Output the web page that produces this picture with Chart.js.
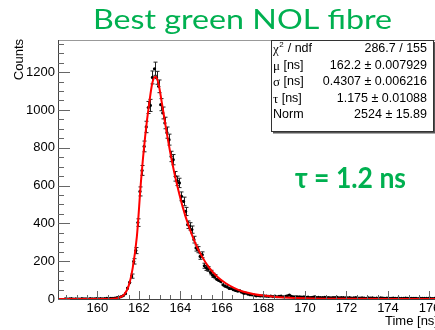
<!DOCTYPE html>
<html><head><meta charset="utf-8">
<script src="https://cdn.jsdelivr.net/npm/chart.js@4/dist/chart.umd.min.js"></script>
<style>
html,body{margin:0;padding:0;overflow:hidden;background:#fff;width:435px;height:330px}
#wrap{position:absolute;left:0;top:0;width:460px;height:330px}
canvas{display:block}
</style></head><body>
<div id="wrap"><canvas id="c" width="460" height="330"></canvas></div>
<script>
// ---------- data ----------
const titleText = "Best green NOL fibre";
const annotationText = "τ = 1.2 ns";
const xTitle = "Time [ns]";
const yTitle = "Counts";
const xTickValues = [160,162,164,166,168,170,172,174,176];
const yTickValues = [0,200,400,600,800,1000,1200];
const binStart = 158.4;
const binWidth = 0.1;
const counts = [
  1,0,1,2,0,1,1,0,2,1,
  1,0,2,1,1,2,1,2,1,2,
  3,2,3,4,5,7,9,13,18,28,
  58,88,121,199,256,404,569,680,807,910,
  1013,1024,1172,1218,1170,1125,1028,984,931,880,
  843,754,737,649,625,614,543,516,463,393,
  384,367,314,270,261,225,234,176,164,159,
  140,125,118,104,98,92,75,68,64,56,
  55,49,45,42,43,36,30,31,26,23,
  22,20,17,18,16,17,16,15,14,16,
  13,15,12,14,15,12,14,17,21,14,
  12,13,11,12,10,11,9,10,8,9,
  11,8,9,7,8,9,7,8,6,8,
  7,9,6,7,8,6,6,7,5,6,
  7,5,5,6,5,4,6,5,6,4,
  5,4,6,5,4,5,4,3,5,4,
  3,4,4,3,5,3,4,3,4,4,
  2,3,4,3,3,4,3,2,4,3,
  3,3,2
];
const fitTimes  = [158.1,160.0,160.6,160.9,161.1,161.3,161.5,161.7,161.9,162.1,162.3,162.5,162.65,162.8,162.95,163.1,163.3,163.5,163.7,163.9,164.1,164.4,164.7,165.0,165.4,165.8,166.2,166.6,167.0,167.5,168.0,168.5,169.0,170.0,171.0,172.0,174.0,176.75];
const fitValues = [0,0,0.5,3,10,25,68,165,330,625,860,1040,1145,1175,1135,1040,905,780,670,575,490,385,300,232,163,115,82,58,40,27,18,12,8,3.5,1.6,0.7,0.15,0];
const statLabels = ["χ² / ndf","μ [ns]","σ [ns]","τ [ns]","Norm"];
const statValues = ["286.7 / 155","162.2 ± 0.007929","0.4307 ± 0.006216","1.175 ± 0.01088","2524 ± 15.89"];

// ---------- drawing ----------
const SANS = "'Liberation Sans', Arial, Helvetica, sans-serif";
const GREEN = "#00b050";

function fitText(ctx, text, left, baseline, font, targetWidth) {
  ctx.save();
  ctx.font = font;
  ctx.textAlign = 'left';
  ctx.textBaseline = 'alphabetic';
  const w = ctx.measureText(text).width;
  ctx.translate(left, baseline);
  ctx.scale(targetWidth / w, 1);
  ctx.fillText(text, 0, 0);
  ctx.restore();
}

const decor = {
  id: 'decor',
  beforeDatasetsDraw(chart) {
    const {ctx, chartArea: a} = chart;
    const xs = chart.scales.x, ys = chart.scales.y;
    ctx.save();
    ctx.beginPath(); ctx.rect(a.left, a.top, a.right - a.left, a.bottom - a.top); ctx.clip();
    ctx.strokeStyle = '#222'; ctx.lineWidth = 1;
    counts.forEach((c, i) => {
      const t = binStart + binWidth * (i + 0.5);
      const px = Math.round(xs.getPixelForValue(t)) + 0.5;
      const py = ys.getPixelForValue(c);
      ctx.beginPath();
      ctx.moveTo(xs.getPixelForValue(t - binWidth/2), py);
      ctx.lineTo(xs.getPixelForValue(t + binWidth/2), py);
      ctx.stroke();
      if (c > 0) {
        const e = Math.sqrt(c);
        const y1 = ys.getPixelForValue(c + e), y2 = ys.getPixelForValue(Math.max(0, c - e));
        ctx.beginPath();
        ctx.moveTo(px, y1); ctx.lineTo(px, y2);
        if (y2 - y1 > 4) {
          ctx.moveTo(px - 2, y1); ctx.lineTo(px + 2, y1);
          ctx.moveTo(px - 2, y2); ctx.lineTo(px + 2, y2);
        }
        ctx.stroke();
      }
    });
    ctx.restore();
  },
  afterDraw(chart) {
    const {ctx, chartArea: a} = chart;
    const xs = chart.scales.x, ys = chart.scales.y;
    ctx.save();
    // frame
    ctx.lineWidth = 1;
    ctx.strokeStyle = '#999';
    ctx.beginPath(); ctx.moveTo(a.left, a.top + 0.5); ctx.lineTo(a.right, a.top + 0.5); ctx.stroke();
    ctx.strokeStyle = '#444';
    ctx.beginPath();
    ctx.moveTo(a.left + 0.5, a.top); ctx.lineTo(a.left + 0.5, a.bottom + 0.5);
    ctx.lineTo(a.right, a.bottom + 0.5);
    ctx.stroke();
    // ticks inside
    ctx.strokeStyle = '#666';
    ctx.beginPath();
    for (let v = Math.ceil(xs.min / 0.5) * 0.5; v <= xs.max; v += 0.5) {
      const major = Math.abs(v / 2 - Math.round(v / 2)) < 1e-6;
      const p = Math.round(xs.getPixelForValue(v)) + 0.5;
      ctx.moveTo(p, a.bottom); ctx.lineTo(p, a.bottom - (major ? 8 : 4));
    }
    for (let v = 0; v <= ys.max; v += 50) {
      const major = v % 200 === 0;
      const p = Math.round(ys.getPixelForValue(v)) + 0.5;
      ctx.moveTo(a.left, p); ctx.lineTo(a.left + (major ? 12 : 6), p);
    }
    ctx.stroke();

    // title and annotation
    ctx.fillStyle = GREEN;
    fitText(ctx, titleText, 93, 29, "27px Lato, 'Open Sans', sans-serif", 299);
    fitText(ctx, annotationText, 295, 188, "bold 29px Lato, 'Open Sans', sans-serif", 111);

    // axis titles
    ctx.fillStyle = '#000';
    ctx.font = "13px " + SANS;
    ctx.textAlign = 'left'; ctx.textBaseline = 'middle';
    ctx.fillText(xTitle, 385, 321);
    ctx.save();
    ctx.translate(19, a.top - 1);
    ctx.rotate(-Math.PI / 2);
    ctx.textAlign = 'right';
    ctx.fillText(yTitle, 0, 0);
    ctx.restore();

    // stats box
    const bx = 271, by = 40, bw = 162, bh = 91;
    ctx.fillStyle = '#fff'; ctx.fillRect(bx, by, bw, bh);
    ctx.strokeStyle = '#333'; ctx.lineWidth = 1;
    ctx.strokeRect(bx + 0.5, by + 0.5, bw, bh);
    ctx.fillStyle = '#555';
    ctx.fillRect(bx + 2, by + bh + 1, bw, 1.5);
    ctx.fillRect(bx + bw + 1, by + 2, 1.5, bh);
    ctx.fillStyle = '#000';
    ctx.textBaseline = 'middle';
    const rowY = [49, 65.5, 82, 98.5, 115];
    statLabels.forEach((lab, i) => {
      let x = 273;
      const y = rowY[i];
      ctx.textAlign = 'left';
      const first = lab[0];
      if (/[α-ω]/.test(first)) {
        ctx.font = "13px 'Liberation Serif', 'DejaVu Serif', serif";
        ctx.fillText(first, x, y + 1);
        x += ctx.measureText(first).width;
        let rest = lab.slice(1);
        if (rest[0] === '²') {
          ctx.font = "8px " + SANS;
          ctx.fillText('2', x + 0.5, y - 4);
          x += ctx.measureText('2').width + 1;
          rest = rest.slice(1);
        }
        ctx.font = "12.5px " + SANS;
        ctx.fillText(rest, x, y);
      } else {
        ctx.font = "12.5px " + SANS;
        ctx.fillText(lab, x, y);
      }
      ctx.font = "12.5px " + SANS;
      ctx.textAlign = 'right';
      ctx.fillText(statValues[i], 427, y);
    });
    ctx.restore();
  }
};

const pointData = counts.map((c, i) => ({x: binStart + binWidth * (i + 0.5), y: c}));
const fitData = fitTimes.map((t, i) => ({x: t, y: fitValues[i]}));

new Chart(document.getElementById('c'), {
  type: 'scatter',
  data: {
    datasets: [
      {label: 'data', data: pointData, pointRadius: 1.6, pointBackgroundColor: '#000', pointBorderWidth: 0, showLine: false, order: 2},
      {label: 'fit', type: 'line', data: fitData, borderColor: '#ff0000', borderWidth: 2, pointRadius: 0, fill: false, cubicInterpolationMode: 'monotone', order: 1}
    ]
  },
  options: {
    responsive: false,
    animation: false,
    devicePixelRatio: 1,
    layout: {padding: {top: 40, right: 15, left: 0, bottom: 0}},
    plugins: {legend: {display: false}, tooltip: {enabled: false}},
    scales: {
      x: {
        type: 'linear', min: 158.1, max: 176.747,
        afterBuildTicks: s => { s.ticks = xTickValues.map(v => ({value: v})); },
        afterFit: s => { s.height = 31; },
        grid: {display: false, drawTicks: false, tickLength: 0}, border: {display: false},
        ticks: {color: '#000', font: {family: SANS, size: 13}, padding: 2, maxRotation: 0, autoSkip: false, callback: v => String(v)}
      },
      y: {
        type: 'linear', min: 0, max: 1370,
        afterBuildTicks: s => { s.ticks = yTickValues.map(v => ({value: v})); },
        afterFit: s => { s.width = 58; },
        grid: {display: false, drawTicks: false, tickLength: 0}, border: {display: false},
        ticks: {color: '#000', font: {family: SANS, size: 13}, padding: 3, autoSkip: false, callback: v => String(v)}
      }
    }
  },
  plugins: [decor]
});
</script>
</body></html>
